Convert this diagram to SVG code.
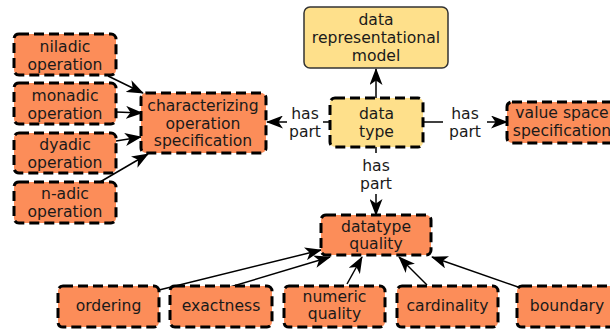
<svg xmlns="http://www.w3.org/2000/svg" width="610" height="329" viewBox="0 0 610 329">
<defs>
<style>
.o{fill:#fc8d59;stroke:#000;stroke-width:3;stroke-dasharray:10,5}
.yd{fill:#fee08b;stroke:#000;stroke-width:3;stroke-dasharray:10,5}
.ys{fill:#fee08b;stroke:#333;stroke-width:1.5}
text{font-family:"DejaVu Sans",sans-serif;font-size:15.6px;fill:#1a1a1a;text-anchor:middle}
.e{stroke:#000;stroke-width:1.5;fill:none;marker-end:url(#ah)}
.l{stroke:#000;stroke-width:1.5;fill:none}
</style>
<marker id="ah" markerUnits="userSpaceOnUse" markerWidth="17" markerHeight="13" viewBox="0 0 17 13" refX="16" refY="6.5" orient="auto">
<path d="M0,0 L17,6.5 L0,13 L4.5,6.5 z" fill="#000"/>
</marker>
</defs>
<g id="connectors">
<line class="e" x1="108" y1="76" x2="143" y2="93"/>
<line class="e" x1="116" y1="112" x2="142" y2="113"/>
<line class="e" x1="116" y1="141" x2="141" y2="137"/>
<line class="e" x1="100" y1="182" x2="148" y2="154"/>
<line class="e" x1="376" y1="98" x2="376" y2="69"/>
<line class="l" x1="330" y1="122" x2="323" y2="122"/>
<line class="e" x1="287" y1="122" x2="267" y2="122"/>
<line class="l" x1="423" y1="122" x2="443" y2="122"/>
<line class="e" x1="487" y1="122" x2="507" y2="122"/>
<line class="l" x1="376" y1="147" x2="376" y2="153"/>
<line class="e" x1="376" y1="194" x2="376" y2="215"/>
<line class="e" x1="159" y1="290" x2="321" y2="250"/>
<line class="e" x1="230" y1="287" x2="330" y2="257"/>
<line class="e" x1="347" y1="284" x2="362" y2="257"/>
<line class="e" x1="427" y1="285" x2="399" y2="257"/>
<line class="e" x1="518" y1="287" x2="432" y2="257"/>
<text x="305" y="119">has</text>
<text x="305" y="137">part</text>
<text x="465" y="119">has</text>
<text x="465" y="137">part</text>
<text x="376" y="171">has</text>
<text x="376" y="189">part</text>
</g>
<g id="niladic"><rect class="o" x="14" y="34" width="102" height="41" rx="5"/><text x="65" y="52">niladic</text><text x="65" y="70">operation</text></g>
<g id="monadic"><rect class="o" x="14" y="83" width="102" height="41" rx="5"/><text x="65" y="101">monadic</text><text x="65" y="119">operation</text></g>
<g id="dyadic"><rect class="o" x="14" y="133" width="102" height="40" rx="5"/><text x="65" y="150">dyadic</text><text x="65" y="168">operation</text></g>
<g id="nadic"><rect class="o" x="14" y="182" width="102" height="41" rx="5"/><text x="65" y="199">n-adic</text><text x="65" y="217">operation</text></g>
<g id="characterizing"><rect class="o" x="141" y="93" width="125" height="60" rx="5"/><text x="203" y="111">characterizing</text><text x="203" y="129">operation</text><text x="203" y="146">specification</text></g>
<g id="datarep"><rect class="ys" x="304" y="7" width="144" height="61" rx="6"/><text x="376" y="25">data</text><text x="376" y="43">representational</text><text x="376" y="61">model</text></g>
<g id="datatype"><rect class="yd" x="330" y="98" width="93" height="49" rx="5"/><text x="376.5" y="119">data</text><text x="376.5" y="137">type</text></g>
<g id="valuespace"><rect class="o" x="507" y="102" width="112" height="41" rx="5"/><text x="562" y="118">value space</text><text x="562" y="136">specification</text></g>
<g id="dtquality"><rect class="o" x="321" y="215" width="110" height="40" rx="5"/><text x="376" y="232">datatype</text><text x="376" y="249">quality</text></g>
<g id="ordering"><rect class="o" x="58" y="286" width="101" height="41" rx="5"/><text x="108.5" y="311">ordering</text></g>
<g id="exactness"><rect class="o" x="170" y="286" width="102" height="41" rx="5"/><text x="221" y="311">exactness</text></g>
<g id="numeric"><rect class="o" x="284" y="286" width="101" height="41" rx="5"/><text x="334.5" y="302">numeric</text><text x="334.5" y="319">quality</text></g>
<g id="cardinality"><rect class="o" x="397" y="286" width="101" height="41" rx="5"/><text x="447.5" y="311">cardinality</text></g>
<g id="boundary"><rect class="o" x="517" y="286" width="101" height="41" rx="5"/><text x="567" y="311">boundary</text></g>
</svg>
